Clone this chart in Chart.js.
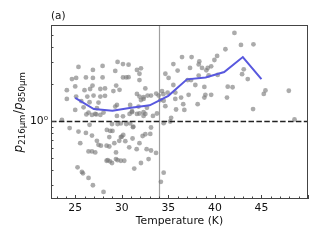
<!DOCTYPE html>
<html><head><meta charset="utf-8">
<script src="https://cdn.jsdelivr.net/npm/chart.js@4/dist/chart.umd.min.js"></script>
<style>html,body{margin:0;padding:0;background:#fff}canvas{display:block}</style>
</head><body>
<div style="width:320px;height:240px"><canvas id="c" width="320" height="240"></canvas></div>
<script>
// ---- data ----
const TEMPS = [25.35,26.9,27.94,24.65,25.1,26.15,26.9,27.94,25.0,24.1,26.0,26.86,26.6,27.7,28.2,24.1,25.1,26.3,26.97,27.7,
28.2,25.65,26.54,27.5,25.9,27.33,28.04,26.2,27.26,25.0,26.43,26.8,27.15,27.7,23.57,26.54,24.4,25.35,26.15,26.8,
27.33,27.5,27.76,28.4,25.54,26.43,26.8,27.15,28.5,25.25,25.72,25.83,26.43,26.9,28.04,28.66,29.0,28.37,28.66,29.2,
29.38,28.37,28.73,28.95,29.38,29.9,30.27,29.73,29.9,30.16,30.38,30.8,31.16,31.24,31.6,32.24,32.53,32.67,33.14,33.14,
33.68,32.88,32.06,31.34,29.48,30.13,30.84,31.1,31.63,31.9,32.34,32.53,33.35,33.78,28.95,29.55,29.9,30.48,30.9,31.2,
34.5,28.76,30.0,33.06,31.9,29.55,34.5,34.2,29.55,30.13,30.73,29.3,31.63,32.06,31.9,30.13,30.48,30.73,31.9,29.4,
29.76,29.1,32.53,34.68,35.03,31.63,31.9,32.34,32.77,33.14,33.7,33.96,34.32,32.06,32.34,29.48,29.3,30.9,31.8,32.7,
31.1,32.34,34.14,34.5,42.1,42.8,44.14,41.13,36.47,37.5,40.24,39.95,38.33,38.26,35.54,38.62,39.23,39.6,39.08,36.0,
37.33,40.3,38.26,39.33,37.08,37.44,43.1,42.92,43.53,34.92,34.46,35.54,35.75,37.9,38.87,41.38,41.9,36.37,37.18,38.87,
39.6,41.3,45.25,45.43,47.94,35.83,36.72,36.6,38.15,34.68,44.1,35.3,48.55,38.98,35.75,35.2];
const RATIOS = [2.75,2.60,2.80,2.19,2.24,2.26,2.24,2.26,1.91,1.78,1.78,1.94,1.82,1.82,1.84,1.51,1.58,1.58,1.61,1.58,
1.60,1.45,1.42,1.41,1.29,1.27,1.17,1.13,1.13,1.23,1.17,1.12,1.14,1.12,1.02,0.93,0.875,0.82,0.80,0.76,
0.69,0.64,0.63,0.845,0.66,0.565,0.565,0.555,0.48,0.42,0.385,0.375,0.344,0.30,0.265,0.74,0.83,0.63,0.62,0.66,
0.555,0.475,0.47,0.455,0.49,0.475,0.475,0.69,0.74,0.77,0.685,0.61,0.72,0.90,0.59,0.755,0.78,0.59,0.885,0.575,
0.55,0.49,0.455,0.41,1.10,1.09,1.14,1.20,1.14,1.15,1.10,1.14,1.10,1.15,0.945,0.945,0.955,0.945,0.955,0.89,
0.96,0.83,0.745,0.785,0.66,0.48,0.38,0.32,3.02,2.90,2.87,2.55,2.60,2.68,2.42,2.26,2.26,2.27,2.15,1.94,
1.79,1.75,1.84,2.42,2.24,1.66,1.58,1.56,1.61,1.61,1.67,1.61,1.75,1.48,1.51,1.35,1.31,1.35,1.31,1.28,
1.18,1.18,1.48,1.46,5.2,4.15,4.2,3.83,3.31,3.31,3.38,3.13,3.05,2.88,2.90,2.70,2.70,2.78,2.58,2.57,
2.70,2.37,2.34,2.35,2.15,2.15,2.63,2.40,2.19,1.70,1.65,1.96,1.70,1.96,1.89,1.90,1.88,1.55,1.63,1.55,
1.63,1.55,1.66,1.77,1.76,1.24,1.23,1.37,1.37,1.32,1.25,1.06,1.03,1.63,1.51,0.99];
const BIN_TEMPS = [25,27,29,31,33,35,37,39,41,43,45];
const BIN_MEDIANS = [1.54,1.25,1.21,1.28,1.34,1.60,2.18,2.26,2.50,3.31,2.19];
const X_TICKS = [25,30,35,40,45];
const Y_TICKS = [1];
const Y_TICK_LABELS = ['10\u2070'];
const Y_MINOR = [0.3,0.4,0.5,0.6,0.7,0.8,0.9,2,3,4,5,6];
const REF_RATIO = 1;
const SPLIT_TEMP = 34;
const PANEL_LABEL = '(a)';
const X_TITLE = 'Temperature (K)';
const Y_TITLE_PARTS = [['p','it'],['216\u03bcm','sub'],['/','n'],['p','it'],['850\u03bcm','sub']];

const FONT = "'DejaVu Sans', sans-serif";
const scatterPts = TEMPS.map((t,i)=>({x:t,y:RATIOS[i]}));
const medPts = BIN_TEMPS.map((t,i)=>({x:t,y:BIN_MEDIANS[i]}));

const deco = {
  id:'deco',
  beforeDatasetsDraw(chart){
    const {ctx, chartArea:a, scales:{x}} = chart;
    ctx.save();
    const vx = Math.round(x.getPixelForValue(SPLIT_TEMP))+0.5;
    ctx.strokeStyle='#a0a0a0'; ctx.lineWidth=1.2;
    ctx.beginPath(); ctx.moveTo(vx,a.top); ctx.lineTo(vx,a.bottom); ctx.stroke();
    ctx.restore();
  },
  afterDatasetsDraw(chart){
    const {ctx, chartArea:a, scales:{x,y}} = chart;
    ctx.save();
    // dashed reference line
    const ry = Math.round(y.getPixelForValue(REF_RATIO))+0.5;
    ctx.setLineDash([5.5,2.4]); ctx.strokeStyle='#222'; ctx.lineWidth=1.4;
    ctx.beginPath(); ctx.moveTo(a.left,ry); ctx.lineTo(a.right,ry); ctx.stroke();
    ctx.setLineDash([]);
    // frame
    ctx.strokeStyle='#444'; ctx.lineWidth=1;
    ctx.strokeRect(a.left+0.5,a.top+0.5,a.right-a.left-1,a.bottom-a.top-1);
    // inward ticks
    ctx.beginPath();
    for(let t=Math.ceil(x.min); t<=x.max; t++){
      const px = Math.round(x.getPixelForValue(t))+0.5;
      const len = (t%5===0)?4:2.5;
      ctx.moveTo(px,a.bottom); ctx.lineTo(px,a.bottom-len);
    }
    for(const v of Y_TICKS){
      const py = Math.round(y.getPixelForValue(v))+0.5;
      ctx.moveTo(a.left,py); ctx.lineTo(a.left+4,py);
    }
    for(const v of Y_MINOR){
      if(v<y.min||v>y.max) continue;
      const py = Math.round(y.getPixelForValue(v))+0.5;
      ctx.moveTo(a.left,py); ctx.lineTo(a.left+2.5,py);
    }
    ctx.stroke();
    // panel label
    ctx.fillStyle='#111'; ctx.font='10.5px '+FONT; ctx.textBaseline='middle'; ctx.textAlign='left';
    ctx.fillText(PANEL_LABEL, a.left, 16);
    // x title
    ctx.font='10.8px '+FONT; ctx.textAlign='center';
    ctx.fillText(X_TITLE,(a.left+a.right)/2,221);
    ctx.textAlign='left';
    // y title (mathtext-like)
    const big=12, small=8.6;
    const fontFor = k => (k==='it'?'italic ':'')+(k==='sub'?small:big)+'px '+FONT;
    let total=0;
    for(const [s,k] of Y_TITLE_PARTS){ ctx.font=fontFor(k); total+=ctx.measureText(s).width + (k==='sub'?0.5:0); }
    ctx.translate(22,(a.top+a.bottom)/2);
    ctx.rotate(-Math.PI/2);
    ctx.textBaseline='alphabetic';
    let cx=-total/2;
    for(const [s,k] of Y_TITLE_PARTS){
      ctx.font=fontFor(k);
      ctx.fillText(s,cx,k==='sub'?3:0);
      cx+=ctx.measureText(s).width + (k==='sub'?0.5:0);
    }
    ctx.restore();
  }
};

new Chart(document.getElementById('c'),{
  type:'scatter',
  data:{datasets:[
    {type:'scatter',data:scatterPts,backgroundColor:'rgba(120,120,120,0.62)',borderWidth:0,pointRadius:2.4,order:2},
    {type:'line',data:medPts,borderColor:'rgb(88,88,222)',borderWidth:2,pointRadius:0,fill:false,tension:0,order:1}
  ]},
  options:{
    responsive:false,animation:false,devicePixelRatio:1,
    layout:{padding:{top:25,right:12,left:0,bottom:0}},
    plugins:{legend:{display:false},tooltip:{enabled:false}},
    scales:{
      x:{type:'linear',min:22.4,max:50,
        afterBuildTicks:s=>{s.ticks=X_TICKS.map(v=>({value:v}));},
        afterFit:s=>{s.height=41;},
        grid:{display:false,drawTicks:false},border:{display:false},
        ticks:{padding:3,color:'#111',font:{family:FONT,size:10.8},maxRotation:0,autoSkip:false}},
      y:{type:'logarithmic',min:0.232,max:6.03,
        afterBuildTicks:s=>{s.ticks=Y_TICKS.map(v=>({value:v}));},
        afterFit:s=>{s.width=51;},
        grid:{display:false,drawTicks:false},border:{display:false},
        ticks:{padding:3,color:'#111',font:{family:FONT,size:10.8},
          callback:(v)=>{const i=Y_TICKS.indexOf(v);return i>=0?Y_TICK_LABELS[i]:'';}}}
    }
  },
  plugins:[deco]
});
</script>
</body></html>
